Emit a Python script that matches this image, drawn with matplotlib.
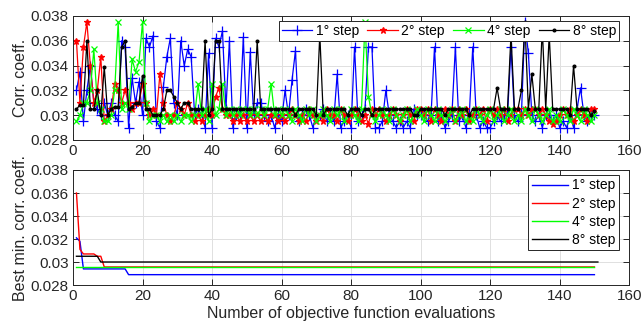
import numpy as np
import matplotlib
matplotlib.use("Agg")
import matplotlib.pyplot as plt
from matplotlib.ticker import FuncFormatter

plt.rcParams['font.family'] = ['Liberation Sans', 'DejaVu Sans']

# correlation coefficient per evaluation, in units of 1e-4
step1 = [320, 335, 295, 320, 340, 310, 305, 300, 310, 300,
         310, 300, 295, 360, 355, 290, 330, 310, 327, 300,
         362, 355, 364, 295, 290, 323, 347, 362, 310, 300,
         360, 340, 353, 347, 300, 305, 300, 290, 350, 290,
         362, 355, 368, 305, 360, 290, 300, 300, 363, 290,
         351, 300, 310, 310, 300, 295, 300, 290, 300, 295,
         320, 300, 328, 352, 295, 300, 305, 300, 290, 300,
         300, 305, 295, 300, 295, 333, 290, 295, 300, 290,
         355, 295, 300, 305, 355, 355, 290, 290, 295, 320,
         300, 295, 290, 295, 290, 295, 290, 305, 300, 300,
         300, 295, 300, 355, 295, 300, 290, 295, 300, 355,
         295, 300, 290, 300, 355, 300, 290, 295, 290, 290,
         295, 300, 295, 300, 300, 355, 300, 295, 300, 375,
         350, 300, 295, 300, 290, 300, 300, 295, 300, 290,
         295, 290, 300, 290, 305, 322, 300, 295, 300, 300]
step2 = [360, 310, 355, 375, 340, 310, 320, 347, 295, 300,
         305, 325, 320, 310, 320, 310, 305, 310, 310, 325,
         310, 300, 305, 300, 333, 310, 300, 295, 300, 310,
         305, 300, 310, 300, 295, 300, 295, 300, 305, 300,
         315, 322, 305, 300, 300, 295, 300, 295, 300, 295,
         300, 295, 300, 295, 300, 295, 300, 300, 295, 300,
         295, 300, 305, 300, 295, 300, 295, 305, 300, 295,
         300, 295, 305, 300, 300, 295, 305, 300, 295, 300,
         305, 300, 295, 300, 293, 305, 300, 305, 300, 295,
         300, 305, 300, 295, 300, 305, 300, 295, 305, 305,
         300, 305, 295, 305, 300, 295, 305, 300, 305, 295,
         305, 300, 305, 295, 300, 305, 300, 305, 295, 305,
         300, 305, 300, 305, 295, 300, 305, 305, 300, 305,
         300, 305, 305, 300, 305, 300, 295, 293, 295, 300,
         305, 300, 305, 295, 300, 305, 300, 295, 305, 305]
step4 = [295, 300, 310, 310, 320, 353, 310, 305, 295, 295,
         300, 320, 375, 305, 310, 305, 345, 335, 343, 375,
         310, 295, 300, 300, 295, 300, 295, 300, 295, 300,
         295, 300, 300, 295, 300, 325, 300, 305, 295, 325,
         300, 305, 325, 300, 305, 300, 305, 300, 305, 305,
         300, 305, 300, 305, 300, 305, 325, 300, 305, 300,
         305, 300, 295, 305, 300, 295, 305, 300, 305, 295,
         300, 305, 300, 295, 305, 300, 305, 295, 300, 305,
         300, 295, 305, 375, 315, 300, 295, 300, 305, 300,
         295, 305, 300, 295, 300, 305, 295, 300, 305, 300,
         295, 305, 300, 295, 305, 300, 295, 300, 305, 295,
         300, 305, 295, 300, 295, 305, 300, 295, 300, 305,
         295, 300, 305, 295, 300, 305, 295, 300, 295, 305,
         300, 295, 305, 300, 295, 300, 305, 295, 300, 295,
         305, 300, 295, 305, 300, 295, 305, 300, 295, 300]
step8 = [305, 308, 308, 360, 305, 305, 320, 300, 339, 300,
         305, 307, 307, 355, 360, 305, 307, 310, 310, 332,
         305, 305, 300, 300, 300, 305, 320, 320, 315, 310,
         305, 310, 310, 305, 305, 305, 305, 360, 300, 305,
         360, 360, 305, 305, 305, 305, 305, 305, 305, 305,
         305, 305, 360, 305, 305, 305, 305, 305, 305, 305,
         305, 305, 305, 300, 305, 305, 305, 305, 305, 300,
         365, 300, 305, 305, 305, 305, 305, 305, 300, 305,
         305, 305, 300, 305, 305, 300, 305, 305, 305, 305,
         305, 305, 305, 305, 305, 305, 305, 300, 300, 305,
         305, 305, 305, 305, 305, 305, 300, 305, 305, 305,
         305, 305, 305, 300, 305, 305, 305, 305, 305, 305,
         305, 322, 305, 305, 305, 365, 305, 305, 320, 375,
         305, 333, 305, 305, 370, 305, 365, 305, 305, 305,
         305, 305, 300, 340, 305, 305, 305, 305, 300, 303]

# best minimum so far (step changes only)
best1_x = [1, 2, 3, 15, 16, 150]
best1 = [0.0321, 0.0318, 0.0294, 0.0294, 0.0289, 0.0289]
best2_x = [1, 2, 3, 6, 7, 8, 9, 150]
best2 = [0.0360, 0.0311, 0.0307, 0.0307, 0.0305, 0.0305, 0.02957, 0.02957]
best4_x = [1, 150]
best4 = [0.02957, 0.02957]
best8_x = [1, 7, 8, 151]
best8 = [0.0305, 0.0305, 0.0300, 0.0300]

labels = ['1° step', '2° step', '4° step', '8° step']
colors = ['#0000ff', '#ff0000', '#00ff00', '#000000']
markers = ['+', '*', 'x', '.']
msizes = [6.5, 5, 4.5, 4]

fig = plt.figure(figsize=(6.43, 3.33), dpi=100)
ax1 = fig.add_axes([0.1135, 0.5796, 0.865, 0.3724])
ax2 = fig.add_axes([0.1135, 0.1441, 0.865, 0.3454])

evals = np.arange(1, 151)
for vals, lab, col, mk, ms in zip([step1, step2, step4, step8], labels, colors, markers, msizes):
    ax1.plot(evals, np.array(vals) * 1e-4, color=col, marker=mk, markersize=ms,
             linewidth=0.9, markeredgewidth=0.9, label=lab)

for bx, by, lab, col in zip([best1_x, best2_x, best4_x, best8_x],
                            [best1, best2, best4, best8], labels, colors):
    ax2.plot(bx, by, color=col, linewidth=1.0, label=lab)

# draw green above red in the best plot like the reference
ax2.lines[2].set_zorder(3)
ax2.lines[3].set_zorder(4)

fmt = FuncFormatter(lambda v, p: '%g' % round(v, 4))
for ax in (ax1, ax2):
    ax.set_xlim(0, 160)
    ax.set_ylim(0.028, 0.038)
    ax.set_xticks(np.arange(0, 161, 20))
    ax.set_yticks(np.arange(0.028, 0.0381, 0.002))
    ax.yaxis.set_major_formatter(fmt)
    ax.grid(True, color='#e0e0e0', linewidth=0.7)
    ax.set_axisbelow(True)
    ax.tick_params(direction='in', top=True, right=True, length=4, width=0.7,
                   labelsize=11, colors='#262626', pad=3)
    for s in ax.spines.values():
        s.set_color('#262626')
        s.set_linewidth(0.7)

ax1.set_ylabel('Corr. coeff.', fontsize=11.5, color='#262626', labelpad=2)
ax2.set_ylabel('Best min. corr. coeff.', fontsize=11.5, color='#262626', labelpad=2)
ax2.set_xlabel('Number of objective function evaluations', fontsize=11.5,
               color='#262626', labelpad=2)

leg1 = ax1.legend(loc='upper right', ncol=4, bbox_to_anchor=(619 / 643, 1 - 21 / 333),
                  bbox_transform=fig.transFigure, borderaxespad=0, fontsize=10,
                  frameon=True, fancybox=False, framealpha=1, edgecolor='#262626',
                  handlelength=2.2, handletextpad=0.25, columnspacing=0.6,
                  borderpad=0.2, numpoints=1)
leg1.get_frame().set_linewidth(0.7)
leg2 = ax2.legend(loc='upper right', bbox_to_anchor=(619 / 643, 1 - 175 / 333),
                  bbox_transform=fig.transFigure, borderaxespad=0, fontsize=10,
                  frameon=True, fancybox=False, framealpha=1, edgecolor='#262626',
                  handlelength=2.6, handletextpad=0.3, borderpad=0.25,
                  labelspacing=0.3)
leg2.get_frame().set_linewidth(0.7)

fig.savefig('out.png', dpi=100)
